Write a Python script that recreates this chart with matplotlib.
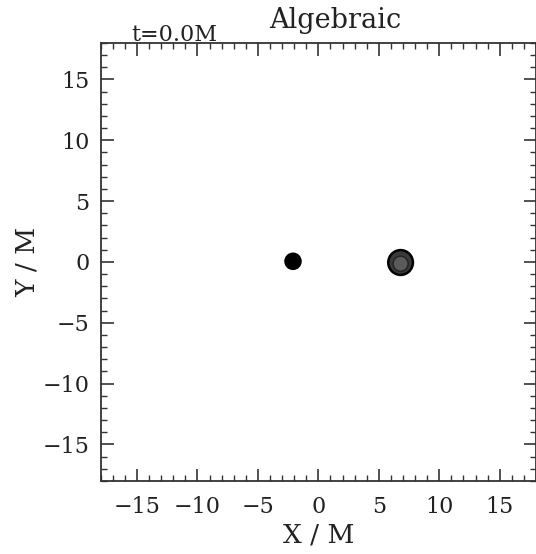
import numpy as np
import matplotlib
matplotlib.use("Agg")
from matplotlib import pyplot as plt
from matplotlib.patches import Circle
from matplotlib.ticker import MultipleLocator

# black hole positions (M) and apparent sizes
bh_x = [-2.1, 6.8]
bh_y = [0.05, -0.05]
bh_r = [0.62, 1.02]
bh_fill = ['black', '#3a3a3a']
inner_r = [0.0, 0.62]
inner_fill = ['black', '#5a5a5a']

xlim = [-18, 18]
ylim = [-18, 18]
ticks = [-15, -10, -5, 0, 5, 10, 15]
tick_labels = ['\u221215', '\u221210', '\u22125', '0', '5', '10', '15']

plt.rcParams['font.family'] = 'DejaVu Serif'

fig = plt.figure(figsize=(5.36, 5.54), dpi=100)
ax = fig.add_axes([0.188, 0.132, 0.812, 0.7905])

for i in range(len(bh_x)):
    ax.add_patch(Circle((bh_x[i], bh_y[i]), bh_r[i], facecolor=bh_fill[i],
                        edgecolor='black', linewidth=1.8, zorder=3))
    if inner_r[i] > 0:
        ax.add_patch(Circle((bh_x[i], bh_y[i] - 0.1), inner_r[i], facecolor=inner_fill[i],
                            edgecolor='#222222', linewidth=1.0, zorder=4))

ax.set_xlim(xlim)
ax.set_ylim(ylim)
ax.set_xticks(ticks)
ax.set_yticks(ticks)
ax.set_xticklabels(tick_labels)
ax.set_yticklabels(tick_labels)
ax.xaxis.set_minor_locator(MultipleLocator(1))
ax.yaxis.set_minor_locator(MultipleLocator(1))
ax.tick_params(which='both', direction='in', top=True, right=True, color='#333333')
ax.tick_params(which='major', length=9, width=1.2, labelsize=16, labelcolor='#222222')
ax.tick_params(axis='x', which='major', pad=11)
ax.tick_params(axis='y', which='major', pad=8)
ax.tick_params(which='minor', length=4.5, width=1.0)
for s in ax.spines.values():
    s.set_linewidth(1.3)
    s.set_color('#333333')

ax.set_xlabel('X / M', fontsize=19, color='#222222', labelpad=3)
ax.set_ylabel('Y / M', fontsize=19, color='#222222', labelpad=2)
fig.text(0.625, 0.949, 'Algebraic', fontsize=19.5, color='#222222',
         ha='center', va='baseline')
fig.text(0.245, 0.926, 't=0.0M', fontsize=16, color='#222222', va='baseline')

fig.savefig('out.png', dpi=100)
